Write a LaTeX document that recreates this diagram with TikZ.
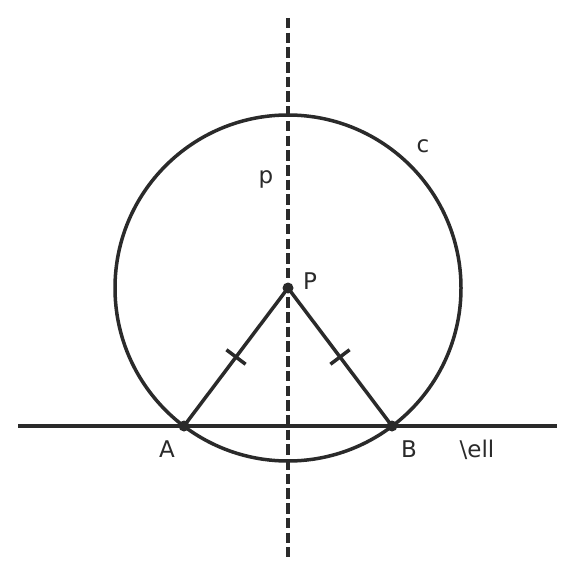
\documentclass[tikz,border=0pt]{standalone}
\usepackage{fontspec}
\setmainfont{DejaVu Sans}
\usetikzlibrary{calc}
\definecolor{ink}{HTML}{2A2A2A}
\begin{document}
\begin{tikzpicture}[x=1bp,y=-1bp,
  stroke/.style={draw=ink,line width=3.5bp},
  dline/.style={stroke,dash pattern=on 10.5bp off 4.2bp},
  dot/.style={circle,fill=ink,inner sep=0pt,minimum size=11bp},
  lbl/.style={text=ink,font=\fontsize{23bp}{27bp}\selectfont,inner sep=0pt}]
\useasboundingbox (0,0) rectangle (576,576);
\coordinate (P) at (288,288);
\coordinate (A) at (184,426);
\coordinate (B) at (392,426);
\coordinate (lL) at (18,426);
\coordinate (lR) at (557,426);
\coordinate (pT) at (288,18);
\coordinate (pB) at (288,557);
\draw[stroke] (lL) -- (lR);
\draw[dline] (pT) -- (pB);
\draw[stroke] (P) circle[radius=173];
\draw[stroke] (A) -- (P) -- (B);
\path ($(A)!0.5!(P)$) coordinate (mA);
\path ($(B)!0.5!(P)$) coordinate (mB);
\draw[stroke] ($(mA)!12bp!90:(P)$) -- ($(mA)!12bp!-90:(P)$);
\draw[stroke] ($(mB)!12bp!90:(P)$) -- ($(mB)!12bp!-90:(P)$);
\node[dot] (Pd) at (P) {};
\node[dot] (Ad) at (A) {};
\node[dot] (Bd) at (B) {};
\node[lbl] (Pl) at (310,281) {P};
\node[lbl] (pl) at (266,179) {p};
\node[lbl] (cl) at (423,146) {c};
\node[lbl] (Al) at (167,449) {A};
\node[lbl] (Bl) at (409,449) {B};
\node[lbl] (ll) at (477,450) {\textbackslash ell};
\end{tikzpicture}
\end{document}
